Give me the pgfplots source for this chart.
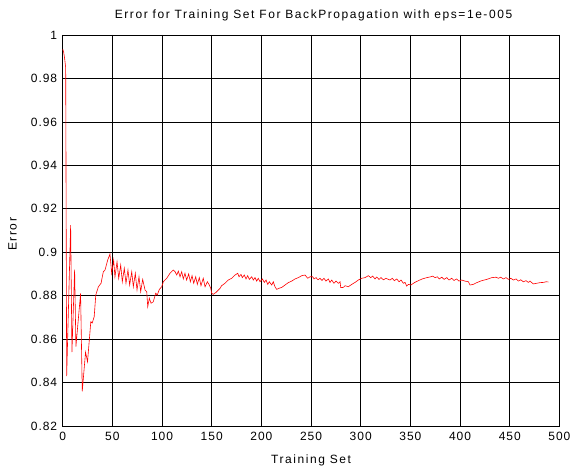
\documentclass[border=0pt]{standalone}
\usepackage{fontspec}
\setmainfont{Liberation Sans}
\newfontfamily\lsp[LetterSpace=8]{Liberation Sans}
\newfontfamily\lspw[LetterSpace=13]{Liberation Sans}
\usepackage{pgfplots}
\pgfplotsset{compat=1.18}
\begin{document}
\begin{tikzpicture}
\useasboundingbox (-62.7pt,-42pt) rectangle (510.3pt,426pt);
\begin{axis}[
  scale only axis, width=496.7pt, height=391pt,
  xmin=0, xmax=500, ymin=0.82, ymax=1,
  xtick={0,50,100,150,200,250,300,350,400,450,500},
  ytick={0.82,0.84,0.86,0.88,0.9,0.92,0.94,0.96,0.98,1},
  grid=major, major grid style={black, line width=0.6pt},
  axis line style={black, line width=0.8pt},
  tick align=inside, tick style={black, line width=0.6pt}, major tick length=4pt,
  /pgf/number format/assume math mode=true,
  x tick label style={font=\lsp\fontsize{12}{14}\selectfont, yshift=-3pt},
  y tick label style={font=\lsp\fontsize{12}{14}\selectfont, xshift=-2pt, /pgf/number format/fixed, /pgf/number format/precision=2},
  title={Error for Training Set For BackPropagation with eps=1e-005},
  title style={font=\lspw\fontsize{12}{14}\selectfont, at={(axis description cs:0.505,1.027)}, anchor=base},
  xlabel={Training Set},
  xlabel style={font=\lspw\fontsize{12}{14}\selectfont, at={(axis description cs:0.5,-0.097)}, anchor=base},
  ylabel={Error},
  ylabel style={font=\lspw\fontsize{12}{14}\selectfont, at={(axis description cs:-0.0926,0.49)}, anchor=base},
]
\addplot[red, line width=0.6pt, mark=none] coordinates {
(0,0.9935)(1,0.992)(2,0.989)(3,0.985)(4,0.843)(8,0.9125)(9.3,0.854)(12,0.892)(13.3,0.8565)(18,0.881)(19.7,0.836)(23,0.854)(25,0.8496)(28.3,0.868)(29.7,0.8674)(31.7,0.8703)(33.3,0.8803)(35.9,0.8841)(38.6,0.8857)(40.9,0.891)(42.6,0.8918)(45.3,0.8964)(47.6,0.8992)(49.3,0.8903)(51.3,0.8964)(52.6,0.8887)(54.7,0.8956)(56.4,0.888)(58.4,0.8941)(60,0.8864)(62,0.8926)(63.7,0.8857)(65.7,0.8918)(67.4,0.8849)(69.5,0.891)(71.1,0.8841)(73.1,0.8903)(74.8,0.8826)(76.8,0.8887)(78.5,0.8818)(80.5,0.8875)(82.9,0.8826)(84.6,0.8818)(85.6,0.8749)(87.2,0.8788)(88.9,0.8765)(91.2,0.8772)(93.6,0.8811)(95.2,0.8803)(97.3,0.8829)(99.7,0.8841)(101.3,0.8864)(104.7,0.888)(108,0.8903)(111.3,0.8918)(113,0.8911)(114.8,0.8895)(116.4,0.8913)(118.1,0.8887)(119.8,0.891)(121.4,0.8877)(123.1,0.8903)(124.8,0.8872)(126.8,0.89)(128.5,0.8864)(130.2,0.8892)(131.9,0.8857)(133.9,0.8887)(135.5,0.8852)(137.5,0.8883)(139.2,0.8846)(141.5,0.888)(143.3,0.8841)(145.6,0.8864)(147.6,0.8849)(149,0.8834)(150,0.8811)(151.6,0.8806)(154.3,0.8815)(156.7,0.8826)(158.4,0.8834)(160,0.8846)(163.4,0.8857)(166.7,0.8872)(170.1,0.888)(173.5,0.8895)(176.2,0.8903)(177.5,0.8887)(179.5,0.8898)(180.8,0.8883)(182.8,0.8895)(184.5,0.8877)(186.2,0.8892)(187.9,0.8875)(190.3,0.8887)(191.9,0.8872)(193.6,0.8883)(195.3,0.8867)(196.9,0.888)(198.6,0.8864)(201,0.8877)(203,0.8861)(204.7,0.8872)(206.4,0.8852)(208,0.8864)(210.4,0.8849)(212,0.8864)(213.7,0.8841)(215.4,0.8829)(217.7,0.8834)(220.5,0.8838)(223.8,0.8849)(227.1,0.886)(230.5,0.8867)(233.9,0.8877)(237.2,0.8883)(240.6,0.8892)(243.9,0.8895)(246.7,0.888)(249,0.8887)(251.7,0.8887)(253,0.8877)(255,0.8883)(257,0.8873)(259,0.888)(261,0.887)(263,0.888)(265,0.8867)(267.4,0.8877)(269.1,0.8861)(270.8,0.8872)(273.1,0.8857)(275.1,0.8867)(277.5,0.8857)(279.2,0.8864)(279.9,0.8837)(282.5,0.8838)(284.2,0.8846)(287.5,0.8841)(291,0.8852)(294.3,0.8861)(297.6,0.8872)(301,0.888)(304.3,0.8883)(307.7,0.8892)(310.1,0.8883)(312.1,0.889)(314.4,0.8877)(316.1,0.8886)(318.4,0.8875)(320.4,0.8883)(322.8,0.8873)(325.5,0.888)(327.8,0.8875)(329.5,0.8872)(331.8,0.888)(333.8,0.8869)(336.3,0.8877)(338.6,0.8864)(340.6,0.8872)(342.9,0.8857)(344.6,0.8861)(346.3,0.8844)(347.9,0.8852)(350.6,0.8849)(354,0.886)(358,0.8869)(362,0.8877)(366.5,0.8883)(369.8,0.8886)(372.5,0.889)(374.8,0.8883)(377.1,0.8887)(379.1,0.8877)(381.6,0.8885)(383.9,0.8875)(386.6,0.8883)(388.9,0.8872)(391.6,0.888)(393.9,0.887)(396.6,0.8877)(398.9,0.8867)(401.7,0.8872)(405,0.8867)(408.4,0.8864)(410,0.8849)(413.4,0.8852)(416.8,0.886)(421.8,0.8869)(426.9,0.8875)(431.9,0.8883)(436.2,0.8885)(438.5,0.888)(440.9,0.8885)(443.6,0.8877)(446.3,0.8883)(448.6,0.8875)(451.1,0.888)(453.7,0.8872)(456.4,0.8877)(458.7,0.8867)(461.1,0.8873)(463.7,0.8864)(466.4,0.8869)(468.7,0.8861)(470.4,0.8867)(473.8,0.8854)(477.2,0.8857)(480.5,0.886)(483.8,0.8861)(486.6,0.8864)(488.9,0.8863)
};
\end{axis}
\end{tikzpicture}
\end{document}
